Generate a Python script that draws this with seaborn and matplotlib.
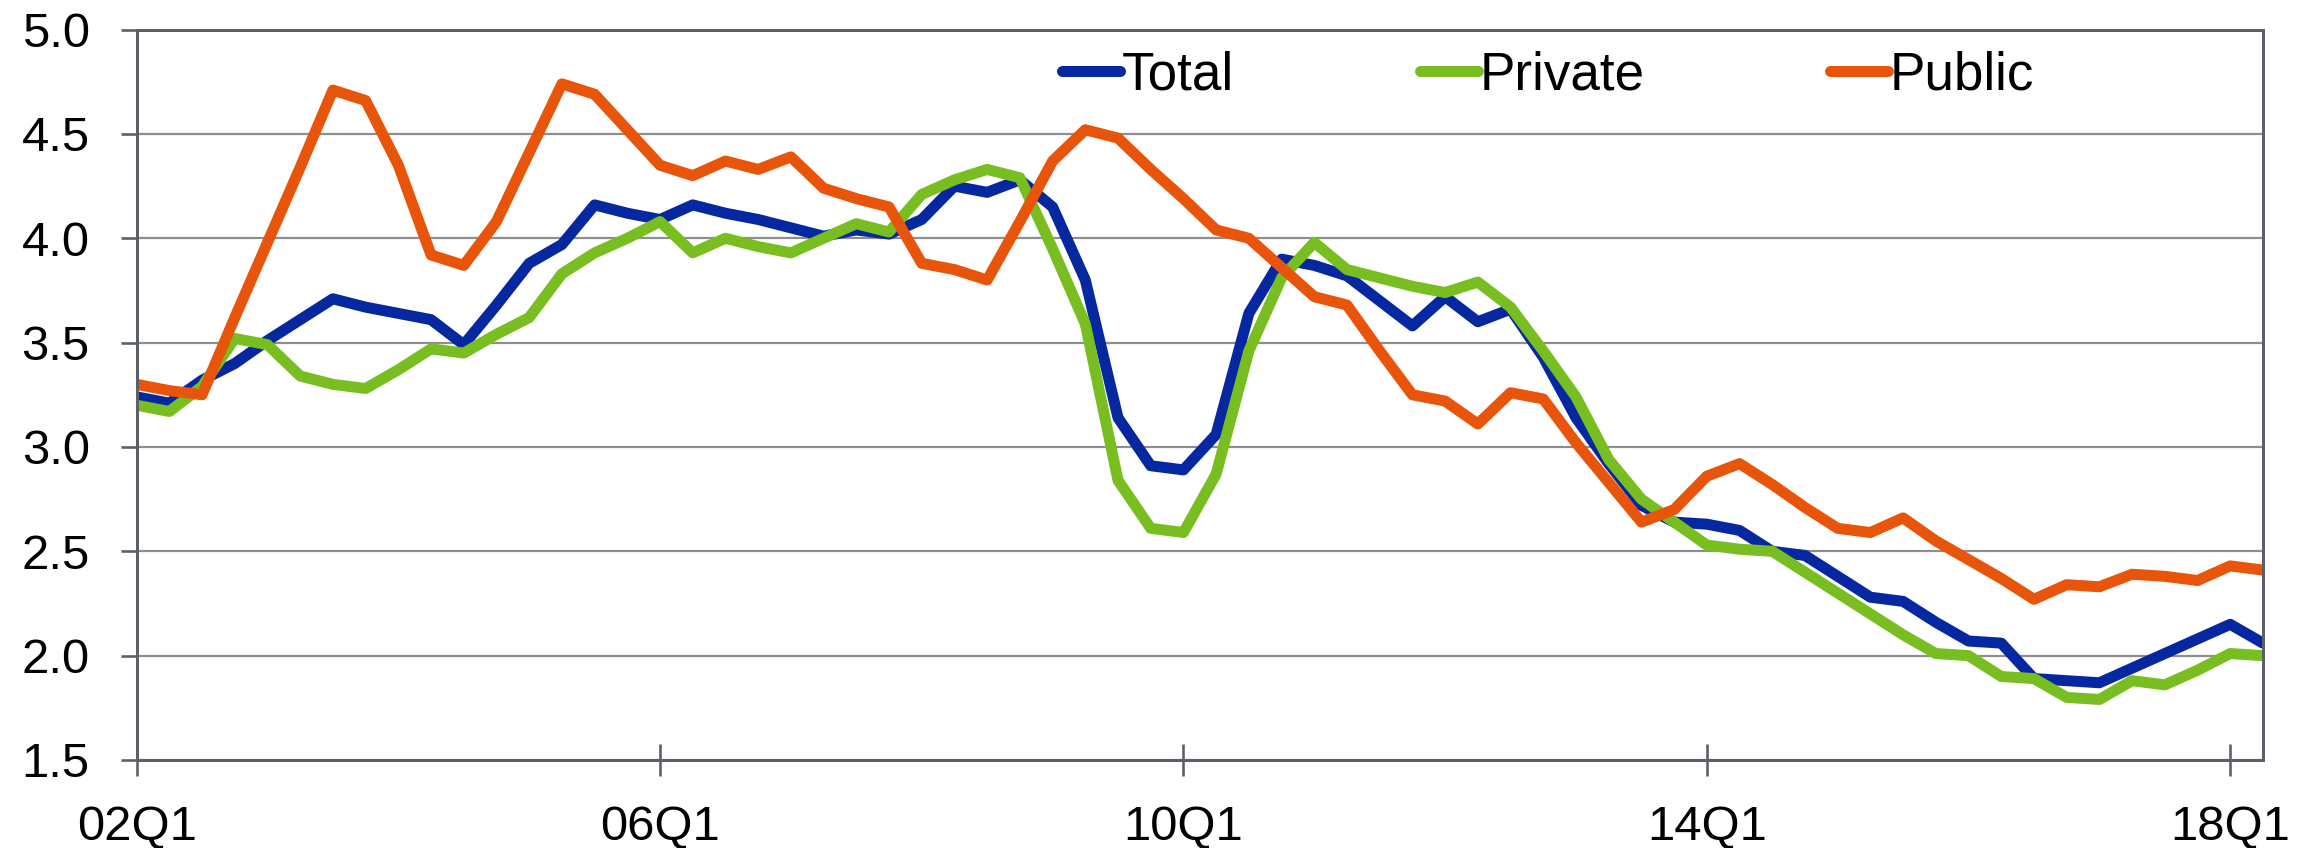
import numpy as np
import pandas as pd
import matplotlib
matplotlib.use("Agg")
import matplotlib.pyplot as plt
import seaborn as sns

# Quarterly periods 2002Q1 .. 2018Q2
years = list(range(2, 19))
quarters = [f"{y:02d}Q{q}" for y in years for q in range(1, 5)][:66]

total = [3.24, 3.21, 3.32, 3.40, 3.51, 3.61, 3.71, 3.67, 3.64, 3.61, 3.49, 3.68, 3.88, 3.97, 4.16,
         4.12, 4.09, 4.16, 4.12, 4.09, 4.05, 4.01, 4.04, 4.02, 4.09, 4.25, 4.22, 4.28, 4.15, 3.80, 3.14, 2.91,
         2.89, 3.06, 3.64, 3.90, 3.87, 3.82, 3.70, 3.58, 3.72, 3.60, 3.66, 3.43, 3.14, 2.92, 2.72, 2.64,
         2.63, 2.60, 2.50, 2.48, 2.38, 2.28, 2.26, 2.16, 2.07, 2.06, 1.89, 1.88, 1.87, 1.94, 2.01, 2.08, 2.15, 2.06]

private = [3.20, 3.17, 3.29, 3.52, 3.49, 3.34, 3.30, 3.28, 3.37, 3.47, 3.45, 3.54, 3.62, 3.83, 3.93,
           4.00, 4.08, 3.93, 4.00, 3.96, 3.93, 4.00, 4.07, 4.03, 4.21, 4.28, 4.33, 4.29, 3.95, 3.59, 2.84, 2.61,
           2.59, 2.87, 3.46, 3.81, 3.98, 3.85, 3.81, 3.77, 3.74, 3.79, 3.67, 3.46, 3.24, 2.94, 2.75, 2.64,
           2.53, 2.51, 2.50, 2.40, 2.30, 2.20, 2.10, 2.01, 2.00, 1.90, 1.89, 1.80, 1.79, 1.88, 1.86, 1.93, 2.01, 2.00]

public = [3.30, 3.27, 3.25, 3.62, 3.98, 4.34, 4.71, 4.66, 4.35, 3.92, 3.87, 4.08, 4.41, 4.74, 4.69,
          4.52, 4.35, 4.30, 4.37, 4.33, 4.39, 4.24, 4.19, 4.15, 3.88, 3.85, 3.80, 4.08, 4.37, 4.52, 4.48, 4.33,
          4.19, 4.04, 4.00, 3.86, 3.72, 3.68, 3.46, 3.25, 3.22, 3.11, 3.26, 3.23, 3.02, 2.83, 2.64, 2.70,
          2.86, 2.92, 2.82, 2.71, 2.61, 2.59, 2.66, 2.55, 2.46, 2.37, 2.27, 2.34, 2.33, 2.39, 2.38, 2.36, 2.43, 2.41]

series_names = ["Total", "Private", "Public"]
series_colors = ["#0528A0", "#78BE20", "#E8550A"]

xtick_labels = ["02Q1", "06Q1", "10Q1", "14Q1", "18Q1"]
yticks = [1.5, 2.0, 2.5, 3.0, 3.5, 4.0, 4.5, 5.0]

df = pd.DataFrame({
    "period": np.tile(np.arange(len(quarters)), 3),
    "value": total + private + public,
    "series": np.repeat(series_names, len(quarters)),
})

sns.set_theme(style="white")
plt.rcParams["font.family"] = ["Liberation Sans", "DejaVu Sans"]
plt.rcParams["text.color"] = "black"

# 72 dpi so that one point is one pixel
DPI = 72
fig = plt.figure(figsize=(2320 / DPI, 848 / DPI), dpi=DPI)
ax = fig.add_axes([0.0589, 0.1038, 0.9165, 0.8613])

sns.lineplot(data=df, x="period", y="value", hue="series", hue_order=series_names,
             palette=dict(zip(series_names, series_colors)), linewidth=11, ax=ax,
             legend=False, solid_joinstyle="round", solid_capstyle="round")

ax.set_xlim(0, len(quarters) - 1)
ax.set_ylim(1.5, 5.0)
ax.set_yticks(yticks)
ax.set_yticklabels([f"{v:.1f}" for v in yticks])
xpos = [quarters.index(q) for q in xtick_labels]
ax.set_xticks(xpos)
ax.set_xticklabels(xtick_labels)
ax.set_xlabel("")
ax.set_ylabel("")

spine_color = "#5B6068"
ax.grid(axis="y", color="#8E8E8E", linewidth=2.2)
ax.grid(axis="x", visible=False)
ax.set_axisbelow(True)
for s in ax.spines.values():
    s.set_visible(True)
    s.set_color(spine_color)
    s.set_linewidth(3)

ax.tick_params(axis="y", direction="out", length=16, width=2.6, color=spine_color,
               pad=31, labelsize=49, labelcolor="black", left=True)
ax.tick_params(axis="x", direction="inout", length=32, width=2.6, color=spine_color,
               pad=29, labelsize=49, labelcolor="black", bottom=True)

handles = [plt.Line2D([], [], color=c, linewidth=11, solid_capstyle="round") for c in series_colors]
leg = ax.legend(handles, series_names, ncol=3, frameon=False, fontsize=53,
                loc="center left", bbox_to_anchor=(1062 / 2320, 1 - 76 / 848),
                bbox_transform=fig.transFigure, borderpad=0, borderaxespad=0,
                handlelength=1.1, handletextpad=0.03, columnspacing=3.5)
for t in leg.get_texts():
    t.set_color("black")

fig.savefig("out.png", dpi=DPI)
